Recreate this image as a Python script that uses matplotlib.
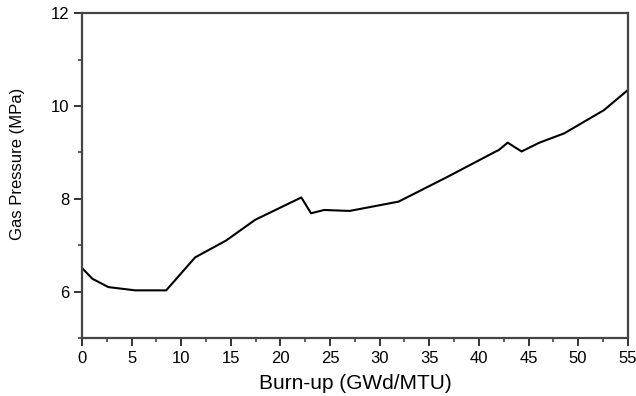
import matplotlib
matplotlib.use("Agg")
import matplotlib.pyplot as plt
from matplotlib.ticker import MultipleLocator

plt.rcParams['font.family'] = ['Liberation Sans', 'DejaVu Sans']

# Wypalenie paliwa i ciśnienie gazu
burnup = [0.0, 1.04, 2.65, 5.35, 8.48, 11.4, 14.5, 17.46, 22.1, 23.08, 24.4,
          26.97, 31.9, 36.8, 41.7, 42.0, 42.9, 44.3, 46.1, 48.6, 50.6, 52.6, 55.0]
pressure = [6.51, 6.28, 6.10, 6.03, 6.03, 6.74, 7.10, 7.55, 8.03, 7.69, 7.76,
            7.74, 7.94, 8.47, 9.02, 9.05, 9.21, 9.02, 9.21, 9.41, 9.66, 9.91, 10.34]

fig = plt.figure(figsize=(6.36, 3.96), dpi=100)
ax = fig.add_axes([0.129, 0.146, 0.858, 0.821])

ax.plot(burnup, pressure, color='black', linewidth=1.5)

ax.set_xlim(0, 55)
ax.set_ylim(5, 12)
ax.xaxis.set_major_locator(MultipleLocator(5))
ax.xaxis.set_minor_locator(MultipleLocator(2.5))
ax.yaxis.set_major_locator(MultipleLocator(2))
ax.yaxis.set_minor_locator(MultipleLocator(1))
ax.set_yticks([6, 8, 10, 12])

ax.tick_params(which='major', direction='out', length=5.5, width=1.4, labelsize=12,
               top=False, right=False, color='#333333')
ax.tick_params(which='minor', direction='out', length=3, width=1.1,
               top=False, right=False, color='#333333')
for s in ax.spines.values():
    s.set_linewidth(1.6)
    s.set_color('#444444')

ax.set_xlabel('Burn-up (GWd/MTU)', fontsize=15, labelpad=6)
ax.set_ylabel('Gas Pressure (MPa)', fontsize=12)
ax.yaxis.set_label_coords(-0.104, 0.535)

plt.savefig('out.png', dpi=100)
